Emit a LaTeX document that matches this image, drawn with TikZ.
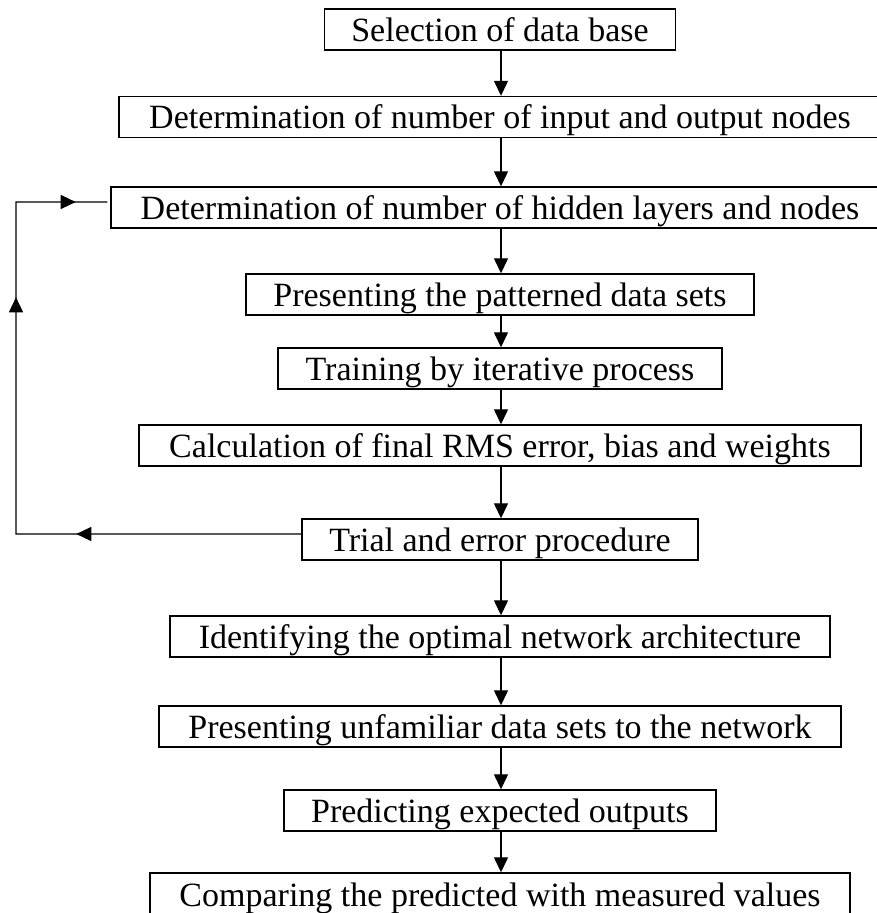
\documentclass[tikz,border=0pt]{standalone}
\usepackage{fontspec}
\setmainfont{Liberation Serif}
\usetikzlibrary{arrows.meta,decorations.markings}
\begin{document}
\begin{tikzpicture}[x=1bp,y=-1bp,
  box/.style={draw, line width=1.4bp, rectangle, inner sep=0pt, minimum height=41bp,
    font=\fontsize{34bp}{40bp}\selectfont, text height=26bp, text depth=3bp, align=center},
  flow/.style={line width=1.3bp, -{Triangle[length=15bp,width=14bp]}},
  loopline/.style={line width=1.3bp}
]
\useasboundingbox (0,0) rectangle (877,913);
\clip (0,0) rectangle (877,913);
\node[box, minimum width=351bp] (b1) at (500,29.5) {Selection of data base};
\node[box, minimum width=762bp] (b2) at (500,117) {Determination of number of input and output nodes};
\node[box, minimum width=778bp] (b3) at (500,207.5) {Determination of number of hidden layers and nodes};
\node[box, minimum width=508bp] (b4) at (500,294.5) {Presenting the patterned data sets};
\node[box, minimum width=444bp] (b5) at (500,368.5) {Training by iterative process};
\node[box, minimum width=722bp] (b6) at (500,445.5) {Calculation of final RMS error, bias and weights};
\node[box, minimum width=396bp] (b7) at (500,539.5) {Trial and error procedure};
\node[box, minimum width=660bp] (b8) at (500,636.5) {Identifying the optimal network architecture};
\node[box, minimum width=682bp] (b9) at (500,726.5) {Presenting unfamiliar data sets to the network};
\node[box, minimum width=432bp] (b10) at (500,810.5) {Predicting expected outputs};
\node[box, minimum width=700bp, minimum height=44bp] (b11) at (500,895) {Comparing the predicted with measured values};
\foreach \a/\b in {b1/b2,b2/b3,b3/b4,b4/b5,b5/b6,b6/b7,b7/b8,b8/b9,b9/b10,b10/b11}
  \draw[flow] ([xshift=1bp]\a.south) -- ([xshift=1bp]\b.north);
\coordinate (lb) at (16,534);
\coordinate (lt) at (16,202);
\draw[loopline, postaction={decorate}, decoration={markings,
    mark=at position 225bp with {\arrow{Triangle[length=15bp,width=14bp]}},
    mark=at position 522bp with {\arrow{Triangle[length=15bp,width=14bp]}},
    mark=at position 677bp with {\arrow{Triangle[length=15bp,width=14bp]}}}]
  ([yshift=5.5bp]b7.west) -- (lb) -- (lt) -- ([yshift=5.5bp,xshift=-3bp]b3.west);
\end{tikzpicture}
\end{document}
